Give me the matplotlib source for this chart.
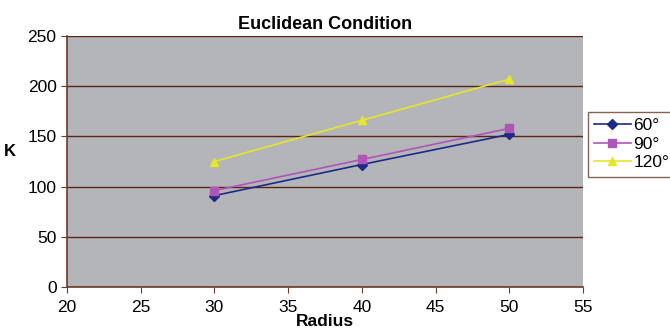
import matplotlib
matplotlib.use("Agg")
import matplotlib.pyplot as plt

plt.rcParams['font.family'] = ['Liberation Sans', 'DejaVu Sans']

radius = [30, 40, 50]
k_60 = [91, 122, 152]
k_90 = [96, 127, 158]
k_120 = [125, 166, 207]
series_labels = ["60°", "90°", "120°"]

fig = plt.figure(figsize=(6.7, 3.28), dpi=100)
ax = fig.add_axes([67/670, 1-287/328, (583-67)/670, (287-36)/328])
ax.set_facecolor('#b3b5b8')

ax.plot(radius, k_60, color='#1c2a8a', marker='D', markersize=5, lw=1.2, label=series_labels[0])
ax.plot(radius, k_90, color='#b055b8', marker='s', markersize=5.5, lw=1.2, label=series_labels[1])
ax.plot(radius, k_120, color='#e6e62a', marker='^', markersize=6, lw=1.2, label=series_labels[2])

ax.set_xlim(20, 55)
ax.set_ylim(0, 250)
ax.set_xticks(range(20, 56, 5))
ax.set_yticks(range(0, 251, 50))
ax.yaxis.grid(True, color='#5a2414', lw=1)
ax.set_axisbelow(True)
for s in ['top', 'right']:
    ax.spines[s].set_visible(False)
for s in ['left', 'bottom']:
    ax.spines[s].set_color('#6b3a2a')
    ax.spines[s].set_linewidth(1.2)
ax.tick_params(axis='both', colors='#6b3a2a', labelcolor='black', labelsize=12.5, length=4, direction='out')
ax.tick_params(axis='x', pad=5)

ax.set_title("Euclidean Condition", fontsize=13, fontweight='bold', pad=5)
ax.set_xlabel("Radius", fontsize=12.5, fontweight='bold', labelpad=0)
ax.set_ylabel("K", fontsize=12, fontweight='bold', rotation=0, labelpad=0)
ax.yaxis.set_label_coords(-0.11, 0.51)

leg = ax.legend(loc='upper left', bbox_to_anchor=(588/670, 1-112/328), bbox_transform=fig.transFigure,
                borderaxespad=0, fontsize=12.5, frameon=True, fancybox=False, handlelength=2.1,
                borderpad=0.35, labelspacing=0.2, handletextpad=0.15)
leg.get_frame().set_edgecolor('#6b3a2a')
leg.get_frame().set_linewidth(1)

fig.savefig("out.png", dpi=100)
